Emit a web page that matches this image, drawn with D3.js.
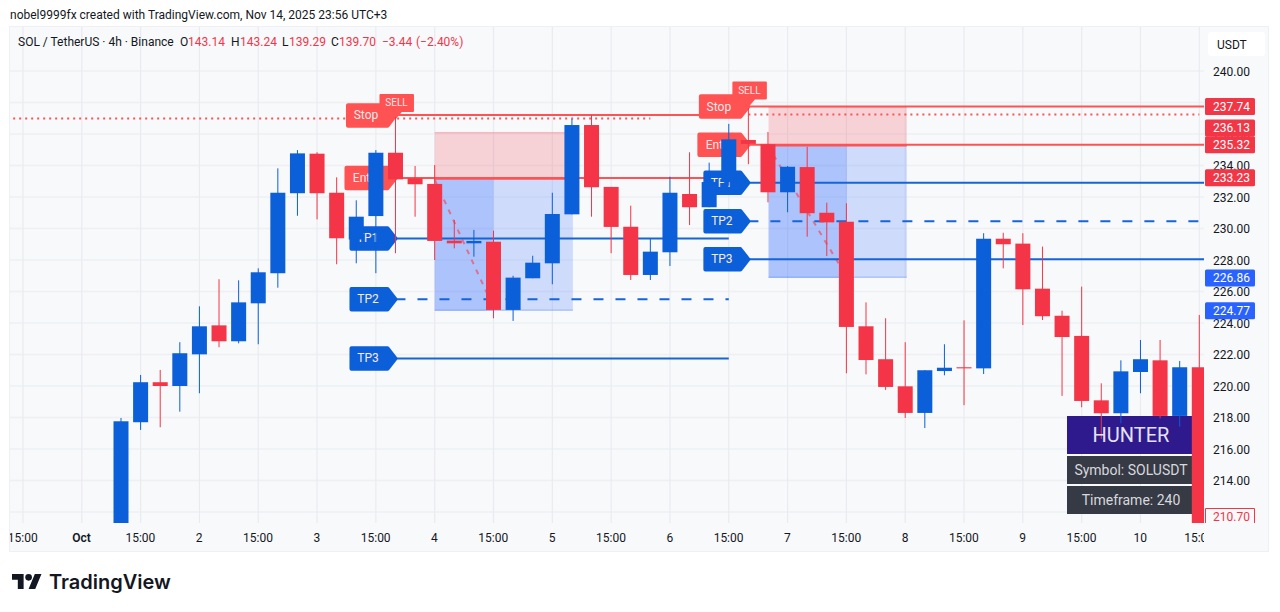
<!DOCTYPE html>
<html><head><meta charset="utf-8">
<script src="https://d3js.org/d3.v7.min.js"></script>
<style>html,body{margin:0;padding:0;background:#fff}svg{display:block}text{font-family:Roboto,sans-serif}</style>
</head><body><svg id="c" width="1280" height="612"></svg>
<script>
const opens=[211,217.70,220.24,220.00,222.01,223.85,222.84,225.25,227.16,232.24,234.75,232.27,229.30,230.79,234.81,233.19,232.83,229.23,229.06,229.16,224.83,226.84,227.79,230.90,236.57,232.64,230.11,227.05,228.49,232.19,231.35,232.95,235.62,235.35,232.30,233.90,231.00,230.43,223.79,221.70,219.98,218.29,220.95,221.19,221.12,229.35,229.04,226.18,224.46,223.18,219.09,218.27,220.89,221.63,218.10,221.19];
const highs=[217.97,220.70,221.02,222.78,225.06,226.78,226.71,227.47,233.82,234.98,234.84,233.25,231.79,234.98,237.08,233.97,234.03,230.54,229.91,229.86,227.00,228.27,232.27,236.95,237.21,232.64,231.45,229.33,233.29,234.84,234.18,236.64,237.65,236.13,233.97,235.19,231.64,231.60,225.31,224.30,222.78,221.00,222.65,224.17,229.70,229.73,229.70,228.85,224.78,226.31,220.17,221.63,222.92,222.92,221.59,224.51];
const lows=[210.5,217.21,217.38,218.37,219.54,222.46,222.71,222.65,226.24,230.81,230.58,227.73,227.79,227.16,228.43,230.75,228.00,228.74,228.21,224.30,224.13,226.84,226.46,230.90,230.75,228.43,226.73,226.73,227.62,230.22,231.35,232.72,234.08,231.66,231.03,229.48,228.25,220.81,220.74,219.75,217.97,217.33,220.68,218.78,220.76,227.47,223.87,224.19,219.37,218.65,216.64,217.63,219.54,217.95,217.42,210.5];
const closes=[217.76,220.24,220.00,222.08,223.79,222.84,225.31,227.22,232.27,234.77,232.24,229.38,230.75,234.81,233.12,232.81,229.21,229.06,229.21,224.83,226.88,227.83,230.92,236.57,232.62,230.10,227.05,228.53,232.27,231.35,232.95,235.66,235.37,232.30,233.92,230.97,230.39,223.75,221.65,219.94,218.29,221.00,221.16,221.12,229.35,229.00,226.14,224.43,223.11,219.05,218.27,220.93,221.70,218.10,221.19,210.70];

const priceTicks=[240,238,236,234,232,230,228,226,224,222,220,218,216,214,212];
const timeTickBars=[-5,-2,1,4,7,10,13,16,19,22,25,28,31,34,37,40,43,46,49,52,55];
const timeTickLabels=["15:00","Oct","15:00","2","15:00","3","15:00","4","15:00","5","15:00","6","15:00","7","15:00","8","15:00","9","15:00","10","15:00"];

// two short trade setups
const setupBar=[14,32], setupEndBar=[31,60], boxStartBar=[16,33.03], boxMidBar=[19,37.02], boxEndBar=[23.05,40.08];
const stopPrice=[237.21,237.74], entryPrice=[233.2,235.32], boxTop=[236.13,237.74];
const tp1Price=[229.37,232.91], tp2Price=[225.51,230.46], tp3Price=[221.75,228.04], boxBottom=[224.77,226.86];
const dottedPrice=[236.98,237.24], dottedFrom=[-5.5,32], dottedTo=[27,55];
const pathTo=[[16,233.1,19,225.0],[33,235.25,37,226.95]];

const axisTags=[["237.74","#f23645",237.74,0],["236.13","#f23645",236.13,-3.7],["235.32","#f23645",235.32,0],["233.23","#f23645",233.23,0],["226.86","#2962ff",226.86,0],["224.77","#2962ff",224.77,0]];
const tableRows=["HUNTER","Symbol: SOLUSDT","Timeframe: 240"];
const RED="#f43547",BLUE="#0b5fd9",LRED="#ff5252",LINEB="#1565d8";

const svg=d3.select("#c");
const x=d3.scaleLinear().domain([0,55]).range([121,1199.3]);
const y=d3.scaleLinear().domain([212,240]).range([512,71]);
const PL=10,PR=1204,PT=27,PB=523;

svg.append("rect").attr("x",9.5).attr("y",26.5).attr("width",1259).attr("height",525).attr("fill","#f8f9fb").attr("stroke","#eef0f3");
const defs=svg.append("defs");
defs.append("clipPath").attr("id","pane").append("rect").attr("x",PL).attr("y",PT).attr("width",PR-PL).attr("height",PB-PT);
defs.append("clipPath").attr("id","timeClip").append("rect").attr("x",PL).attr("y",PB).attr("width",PR-PL).attr("height",30);

// header
svg.append("text").attr("x",10).attr("y",19).attr("font-size",12).attr("fill","#131722").text("nobel9999fx created with TradingView.com, Nov 14, 2025 23:56 UTC+3");

// grid
const g=svg.append("g").attr("clip-path","url(#pane)");
g.selectAll(".h").data(priceTicks).join("line").attr("x1",PL).attr("x2",PR).attr("y1",d=>y(d)).attr("y2",d=>y(d)).attr("stroke","#eef0f3").attr("stroke-width",1.5);
g.selectAll(".v").data(timeTickBars).join("line").attr("y1",PT).attr("y2",PB).attr("x1",d=>x(d)).attr("x2",d=>x(d)).attr("stroke","#e9ebef").attr("stroke-width",1.2);

const legend=[["SOL / TetherUS · 4h · Binance",18,"#131722"],["O",180,"#131722"],["143.14",188,RED],["H",231,"#131722"],["143.24",240,RED],["L",282,"#131722"],["139.29",289,RED],["C",331,"#131722"],["139.70",339,RED],["−3.44",382,RED],["(−2.40%)",416,RED]];
svg.append("g").selectAll("text").data(legend).join("text").attr("x",d=>d[1]).attr("y",46).attr("font-size",12).attr("fill",d=>d[2]).text(d=>d[0]);

// position boxes
setupBar.forEach((b,i)=>{
  const x0=x(boxStartBar[i]),xm=x(boxMidBar[i]),x1=x(boxEndBar[i]);
  g.append("rect").attr("x",x0).attr("width",x1-x0).attr("y",y(boxTop[i])).attr("height",y(entryPrice[i])-y(boxTop[i])).attr("fill","rgba(242,54,69,.2)");
  g.append("rect").attr("x",x0).attr("width",x1-x0).attr("y",y(boxTop[i])).attr("height",1.5).attr("fill","rgba(242,54,69,.15)");
  g.append("rect").attr("x",x0).attr("width",x1-x0).attr("y",y(entryPrice[i])+1).attr("height",y(boxBottom[i])-y(entryPrice[i])-1).attr("fill","rgba(41,98,255,.2)");
  g.append("rect").attr("x",x0).attr("width",xm-x0).attr("y",y(entryPrice[i])+1).attr("height",y(boxBottom[i])-y(entryPrice[i])-1).attr("fill","rgba(41,98,255,.2)");
  g.append("rect").attr("x",x0).attr("width",x1-x0).attr("y",y(boxBottom[i])-1.5).attr("height",1.5).attr("fill","rgba(41,98,255,.2)");
  g.append("line").attr("x1",x0).attr("x2",x1).attr("y1",y(entryPrice[i])+.5).attr("y2",y(entryPrice[i])+.5).attr("stroke",LRED).attr("stroke-width",2.5);
  const p=pathTo[i];
  g.append("line").attr("x1",x(p[0])).attr("y1",y(p[1])).attr("x2",x(p[2])).attr("y2",y(p[3])).attr("stroke","#e8607c").attr("stroke-opacity",.85).attr("stroke-width",2).attr("stroke-dasharray","5,6");
});

// setup lines
setupBar.forEach((b,i)=>{
  const a=x(b),e=x(setupEndBar[i]);
  const ln=(pr,col,dash)=>g.append("line").attr("x1",a).attr("x2",e).attr("y1",y(pr)).attr("y2",y(pr)).attr("stroke",col).attr("stroke-width",2).attr("stroke-dasharray",dash||null);
  ln(stopPrice[i],LRED); ln(entryPrice[i],LRED); ln(tp1Price[i],LINEB); ln(tp2Price[i],LINEB,"10,12"); ln(tp3Price[i],LINEB);
  g.append("line").attr("x1",x(dottedFrom[i])).attr("x2",x(dottedTo[i])).attr("y1",y(dottedPrice[i])).attr("y2",y(dottedPrice[i])).attr("stroke",LRED).attr("stroke-width",2).attr("stroke-dasharray","2,4");
});

// flag labels
function flag(px,py,w,h,col,txt,dx,up){
  const L=px-w,T=py-h/2+(up||0),B=T+h;
  const pts=[[L+2,T+2],[px-9,T+2],[px-1,py],[px-9,B-2],[L+2,B-2]];
  g.append("path").attr("d",d3.line()(pts)+"Z").attr("fill",col).attr("stroke",col).attr("stroke-width",4).attr("stroke-linejoin","round");
  g.append("text").attr("x",L+dx).attr("y",T+h/2+4).attr("text-anchor","middle").attr("font-size",12).attr("fill","#fbe9ea").text(txt);
}
setupBar.forEach((b,i)=>{
  const a=x(b)+1;
  const lw=i?46:47;
  flag(a,y(tp1Price[i]),lw,24.5,BLUE,"TP1",18);
  flag(a,y(tp2Price[i]),lw,24.5,BLUE,"TP2",18.5);
  flag(a,y(tp3Price[i]),lw,24.5,BLUE,"TP3",18.5);
  flag(a,y(entryPrice[i]),52,24.5,LRED,"Entry",22);
  flag(a,y(stopPrice[i]),50.5,24.5,LRED,"Stop",20,i?0:.5);
  const sy=y(stopPrice[i])+(i?-25:-21);
  g.append("path").attr("d",d3.line()([[a-16,sy+1],[a+16.5,sy+1],[a+16.5,sy+17],[a+5,sy+17],[a-1,sy+24],[a-4,sy+17],[a-16,sy+17]])+"Z").attr("fill",LRED).attr("stroke",LRED).attr("stroke-width",2).attr("stroke-linejoin","round");
  g.append("text").attr("x",a).attr("y",sy+12.5).attr("text-anchor","middle").attr("font-size",10).attr("fill","#fbe4e6").text("SELL");
});

// info table rects under the candles
const tX=1067,tW=130;
const tY=[416,456,486],tH=[38,28,28],tFill=["#2e1a8c","#363a45","#363a45"],tSize=[20,14,14],tCol=["#e4e2f4","#d6d8de","#d6d8de"];
tableRows.forEach((t,i)=>g.append("rect").attr("x",tX).attr("y",tY[i]).attr("width",tW).attr("height",tH[i]).attr("fill",tFill[i]));

// candles
const idx=d3.range(opens.length);
const colr=i=>closes[i]>=opens[i]?BLUE:RED;
g.selectAll(".w").data(idx).join("line").attr("x1",i=>x(i)).attr("x2",i=>x(i)).attr("y1",i=>y(highs[i])).attr("y2",i=>y(lows[i])).attr("stroke",colr).attr("stroke-width",1);
g.selectAll(".b").data(idx).join("rect").attr("x",i=>x(i)-7.5).attr("width",15)
 .attr("y",i=>Math.min(y(opens[i]),y(closes[i]))).attr("height",i=>Math.max(1,Math.abs(y(opens[i])-y(closes[i])))).attr("fill",colr);

tableRows.forEach((t,i)=>g.append("text").attr("x",1131).attr("y",tY[i]+tH[i]/2+(i?5:7)).attr("text-anchor","middle").attr("font-size",tSize[i]).attr("fill",tCol[i]).text(t));

// axes
const ay=svg.append("g").attr("transform",`translate(${PR},0.5)`).call(d3.axisRight(y).tickValues(priceTicks).tickSize(0).tickPadding(9).tickFormat(d3.format(".2f")));
ay.select(".domain").remove();
ay.selectAll("text").attr("font-size",12).attr("font-family","Roboto").attr("fill","#131722");
const ax=svg.append("g").attr("clip-path","url(#timeClip)").append("g").attr("transform",`translate(-0.7,${PB})`)
 .call(d3.axisBottom(x).tickValues(timeTickBars).tickSize(0).tickPadding(10).tickFormat((d,i)=>timeTickLabels[i]));
ax.select(".domain").remove();
ax.selectAll("text").attr("font-size",12).attr("font-family","Roboto").attr("fill","#131722").attr("font-weight",(d,i)=>timeTickLabels[i]==="Oct"?600:400);

// price tags
const tags=svg.append("g");
axisTags.forEach(t=>{
  const cy=y(t[2])+t[3]+(t[0]==="236.13"?-.3:0);
  tags.append("rect").attr("x",1205).attr("y",cy-8.5).attr("width",50).attr("height",17).attr("rx",1.5).attr("fill",t[1]);
  tags.append("text").attr("x",1213).attr("y",cy+4.3).attr("font-size",12).attr("fill","#fff").text(t[0]);
});
tags.append("path").attr("d",`M1205.5 523V508.5H1254.5V523`).attr("fill","#fff").attr("stroke",RED);
tags.append("rect").attr("x",1206).attr("y",509).attr("width",48).attr("height",14).attr("fill","#f8f9fb");
tags.append("text").attr("x",1213).attr("y",521).attr("font-size",12).attr("fill",RED).text("210.70");

// currency button
svg.append("rect").attr("x",1208).attr("y",32).attr("width",57).attr("height",24).attr("rx",3).attr("fill","#fff");
svg.append("text").attr("x",1217).attr("y",49).attr("font-size",12).attr("fill","#131722").text("USDT");

// footer logo
const logo=svg.append("g").attr("transform","translate(12,570.7) scale(.83)").attr("fill","#131722");
logo.append("path").attr("d","M14 22H7V11H0V4h14v18zM28 22h-8l7.5-18h8L28 22z");
logo.append("circle").attr("cx",20).attr("cy",8).attr("r",4);
svg.append("text").attr("x",49).attr("y",589).attr("font-size",20).attr("font-weight",600).attr("style","font-family:Inter,Roboto,sans-serif").attr("fill","#131722").text("TradingView");
</script></body></html>
